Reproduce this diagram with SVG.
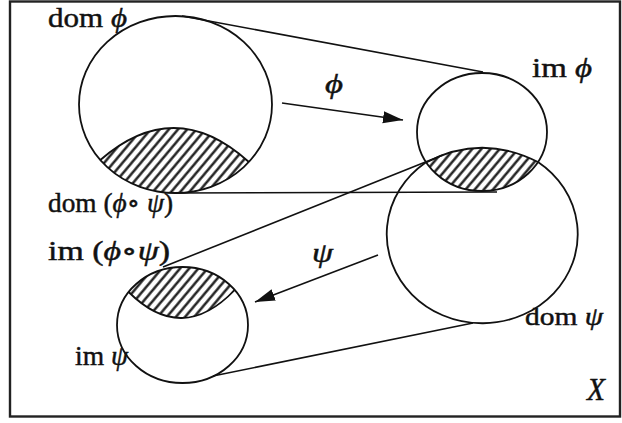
<svg xmlns="http://www.w3.org/2000/svg" width="622" height="423" viewBox="0 0 622 423">
<style>
.ol{fill:none;stroke:#111;stroke-width:1.8}
.ln{fill:none;stroke:#111;stroke-width:1.6}
.hz{fill:url(#hatch);stroke:none}
.t{font-family:"Liberation Serif","DejaVu Serif",serif;font-size:27px;fill:#111;stroke:#111;stroke-width:0.45}
.g{font-style:italic}
</style>
<defs>
<pattern id="hatch" patternUnits="userSpaceOnUse" width="7" height="7" patternTransform="rotate(40)">
<rect width="7" height="7" fill="#fff"/>
<line x1="2.5" y1="-1" x2="2.5" y2="8" stroke="#111" stroke-width="2.3"/>
</pattern>
<marker id="ah" markerUnits="userSpaceOnUse" markerWidth="22" markerHeight="14" refX="20" refY="7" orient="auto">
<path d="M0,1 L20,7 L0,13 Z" fill="#111"/>
</marker>
<clipPath id="c3clip"><path d="M425,163 Q481,133 538,162 A95.5 89 0 1 1 425,163 Z"/></clipPath>
</defs>
<rect width="622" height="423" fill="#fff"/>
<g id="frame"><rect x="10" y="1.5" width="610" height="415" fill="none" stroke="#222" stroke-width="2.4"/></g>

<g id="dom-phi">
<path class="hz" d="M100.3,160 Q175,95 248.9,162 A96.5 88.5 0 0 1 100.3,160 Z"/>
<path class="ol" d="M100.3,160 Q175,95 248.9,162"/>
<ellipse class="ol" cx="175.5" cy="104.5" rx="96.5" ry="88.5"/>
</g>

<g id="im-phi">
<ellipse class="hz" cx="482" cy="132" rx="65" ry="59" clip-path="url(#c3clip)"/>
<ellipse class="ol" cx="482" cy="132" rx="65" ry="59"/>
</g>

<g id="dom-psi">
<path class="ol" d="M425,163 Q481,133 538,162 A95.5 89 0 1 1 425,163 Z"/>
</g>

<g id="im-psi">
<path class="hz" d="M128.6,292 Q182,345 234.7,290 A65.5 58 0 0 0 128.6,292 Z"/>
<path class="ol" d="M128.6,292 Q182,345 234.7,290"/>
<ellipse class="ol" cx="182.5" cy="325" rx="65.5" ry="58"/>
</g>

<g id="connectors">
<line class="ln" x1="182" y1="16" x2="483" y2="72"/>
<line class="ln" x1="175" y1="193" x2="497" y2="192"/>
<line class="ln" x1="163" y1="267" x2="443" y2="155"/>
<line class="ln" x1="213" y1="376" x2="473" y2="323"/>
<line class="ln" x1="282" y1="103" x2="403" y2="120" marker-end="url(#ah)"/>
<line class="ln" x1="378" y1="255" x2="255" y2="302" marker-end="url(#ah)"/>
</g>

<g id="labels">
<text class="t" x="48" y="27" textLength="79" lengthAdjust="spacingAndGlyphs">dom <tspan class="g">ϕ</tspan></text>
<text class="t" x="532" y="77" textLength="60" lengthAdjust="spacingAndGlyphs">im <tspan class="g">ϕ</tspan></text>
<text class="t g" x="325" y="93" textLength="18" lengthAdjust="spacingAndGlyphs">ϕ</text>
<text class="t" x="48" y="212" textLength="125" lengthAdjust="spacingAndGlyphs">dom (<tspan class="g">ϕ</tspan>∘ <tspan class="g">ψ</tspan>)</text>
<text class="t" x="48" y="260" textLength="122" lengthAdjust="spacingAndGlyphs">im (<tspan class="g">ϕ</tspan>∘<tspan class="g">ψ</tspan>)</text>
<text class="t g" x="312" y="262" textLength="21" lengthAdjust="spacingAndGlyphs">ψ</text>
<text class="t" x="75" y="365" textLength="53" lengthAdjust="spacingAndGlyphs">im <tspan class="g">ψ</tspan></text>
<text class="t" x="525" y="325" style="font-size:25px" textLength="78" lengthAdjust="spacingAndGlyphs">dom <tspan class="g">ψ</tspan></text>
<text class="t g" x="587" y="400" style="font-size:31px" textLength="18" lengthAdjust="spacingAndGlyphs">X</text>
</g>
</svg>
